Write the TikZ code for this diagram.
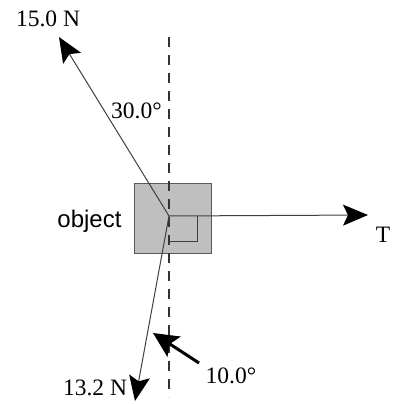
\documentclass[tikz,border=0pt]{standalone}
\usepackage{fontspec}
\setmainfont{Liberation Serif}
\newfontfamily\objfont{Liberation Sans}
\usetikzlibrary{arrows.meta}
\begin{document}
\begin{tikzpicture}[x=1pt,y=-1pt,
  force/.style={draw=black!75, line width=1pt, -{Stealth[length=25pt,width=21pt,inset=5pt,color=black]}},
  thick arrow/.style={draw=black, line width=3pt, -{Stealth[length=25pt,width=24pt,inset=5pt]}},
  lbl/.style={font=\fontsize{23.5}{26}\selectfont, inner sep=0pt, anchor=base},
  objbox/.style={draw=black!65, fill=black!25, line width=1pt, minimum width=77pt, minimum height=70pt, inner sep=0pt},
  axis/.style={draw=black!80, line width=1.4pt, dash pattern=on 10pt off 8pt},
  marker/.style={draw=black!75, line width=1pt}]
\useasboundingbox (0,0) rectangle (392,405);
\node[objbox] (obj) at (172.5,218) {};
\coordinate (O) at (169,216);
\coordinate (top) at (169,37);
\coordinate (bot) at (169,397);
\draw[axis] (top) -- (bot);
\coordinate (m1) at (197,216);
\coordinate (m2) at (197,241);
\coordinate (m3) at (169,241);
\draw[marker] (m1) -- (m2) -- (m3);
\coordinate (tipA) at (59,37);
\coordinate (tipB) at (135,401);
\coordinate (tipT) at (368,215);
\draw[force] (O) -- (tipA);
\draw[force] (O) -- (tipB);
\draw[force] (O) -- (tipT);
\coordinate (tailC) at (199,363);
\coordinate (tipC) at (153,333);
\draw[thick arrow] (tailC) -- (tipC);
\node[lbl] (l15) at (48,26) {15.0 N};
\node[lbl] (l30) at (136.5,118) {30.0°};
\node[lbl] (l13) at (95,395) {13.2 N};
\node[lbl] (l10) at (231,383) {10.0°};
\node[lbl] (lT) at (383,242) {T};
\node[inner sep=0pt, anchor=base, font=\objfont\fontsize{24}{27}\selectfont] (lobj) at (89.5,227) {object};
\end{tikzpicture}
\end{document}
